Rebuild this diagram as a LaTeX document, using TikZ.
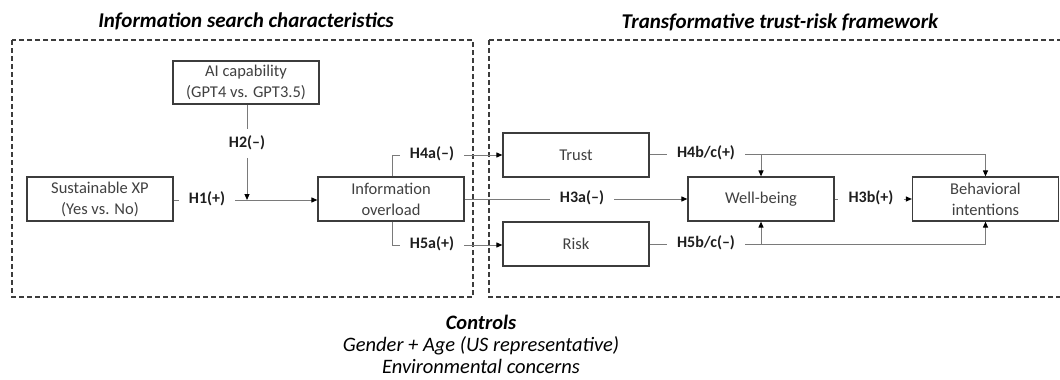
\documentclass[tikz,border=0pt]{standalone}
\usepackage{fontspec}
\setmainfont{Carlito}
\usetikzlibrary{arrows.meta}
\definecolor{boxline}{HTML}{3C3C3C}
\definecolor{conn}{HTML}{7A7A7A}
\definecolor{boxtext}{HTML}{404040}
\definecolor{labtext}{HTML}{1E1E1E}
\tikzset{
  box/.style={draw=boxline, line width=1.2pt, minimum width=146pt, minimum height=44pt,
    align=center, text=boxtext, inner sep=0pt, font=\fontsize{16.5}{21}\selectfont},
  hyp/.style={text=labtext, inner xsep=10pt, inner ysep=7pt, text height=11pt, text depth=3.5pt,
    font=\fontsize{16}{19}\selectfont\bfseries},
  conline/.style={draw=conn, line width=1pt},
  arr/.style={conline, -{Triangle[length=6pt,width=5pt,color=black]}},
  frame/.style={draw=boxline, line width=1.1pt, dash pattern=on 5pt off 3pt},
  ttl/.style={font=\fontsize{21}{24}\selectfont\bfseries\itshape, text=black, inner sep=0pt},
  ctl/.style={font=\fontsize{20.5}{22}\selectfont\itshape, text=black, align=center, inner sep=0pt}
}
\begin{document}
\begin{tikzpicture}[x=1pt,y=-1pt]
\useasboundingbox (0,0) rectangle (1060,380);
% frames
\draw[frame] (12,40) rectangle (473,297);
\draw[frame] (489,40) -- (1075,40);
\draw[frame] (489,40) -- (489,297) -- (1075,297);
% titles
\node[ttl] (t1) at (246,21) {Information search characteristics};
\node[ttl] (t2) at (780,22) {Transformative trust-risk framework};
\node[ctl] (ctl) at (481,344) {\textbf{Controls}\\Gender + Age (US representative)\\Environmental concerns};
% boxes
\node[box, minimum height=43pt] (ai) at (246,82.5) {AI capability\\(GPT4 vs. GPT3.5)};
\node[box] (sx) at (100,199) {Sustainable XP\\(Yes vs. No)};
\node[box] (info) at (391,199) {Information\\overload};
\node[box] (trust) at (576,155) {Trust};
\node[box] (risk) at (576,244) {Risk};
\node[box] (well) at (761,199) {Well-being};
\node[box] (behav) at (985.5,199) {Behavioral\\intentions};
% hypothesis labels
\node[hyp] (h1) at (207,200) {H1(+)};
\node[hyp] (h2) at (247,143.5) {H2(\textendash)};
\node[hyp] (h4a) at (432,155) {H4a(\textendash)};
\node[hyp] (h5a) at (432,245) {H5a(+)};
\node[hyp] (h3a) at (582,199) {H3a(\textendash)};
\node[hyp] (h4bc) at (706,154) {H4b/c(+)};
\node[hyp] (h5bc) at (706,244) {H5b/c(\textendash)};
\node[hyp] (h3b) at (871,199) {H3b(+)};
\coordinate (j) at (247,200);
% connectors
\draw[conline] (sx.east |- h1.west) -- (h1.west);
\draw[arr] (h1.east) -- (info.west |- h1.east);
\draw[conline] (ai.south -| h2.north) -- (h2.north);
\draw[arr] (h2.south) -- (j);
\draw[conline] (info.north -| 392,0) |- (h4a.west);
\draw[arr] (h4a.east) -- (trust.west |- h4a.east);
\draw[conline] (info.south -| 392,0) |- (h5a.west);
\draw[arr] (h5a.east) -- (risk.west |- h5a.east);
\draw[conline] (info.east) -- (h3a.west);
\draw[arr] (h3a.east) -- (well.west);
\draw[conline] (trust.east |- h4bc.west) -- (h4bc.west);
\draw[arr] (h4bc.east) -| (behav.north);
\draw[arr] (h4bc.east -| well.north) -- (well.north);
\draw[conline] (risk.east |- h5bc.west) -- (h5bc.west);
\draw[arr] (h5bc.east) -| (behav.south);
\draw[arr] (h5bc.east -| well.south) -- (well.south);
\draw[conline] (well.east) -- (h3b.west);
\draw[arr] (h3b.east) -- (behav.west);
\end{tikzpicture}
\end{document}
